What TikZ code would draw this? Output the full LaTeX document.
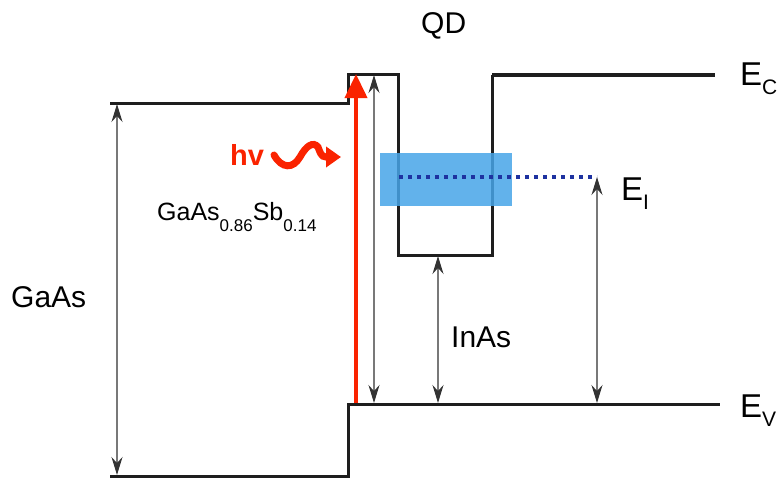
\documentclass[tikz,border=0pt]{standalone}
\usepackage{fontspec}
\setmainfont{Liberation Sans}
\usepackage{tikz}
\usetikzlibrary{arrows.meta}

\definecolor{bandblack}{RGB}{30,30,30}
\definecolor{gapgray}{RGB}{120,120,120}
\definecolor{photonred}{RGB}{250,35,0}
\definecolor{levelblue}{RGB}{70,165,232}
\definecolor{dotblue}{RGB}{30,50,160}

\newcommand{\sub}[1]{\raisebox{-0.45em}{\fontsize{17}{17}\selectfont #1}}

\begin{document}
\begin{tikzpicture}[x=1pt, y=-1pt, every node/.style={font=\fontsize{30}{36}\selectfont, inner sep=0pt},
  band/.style={bandblack, line width=3pt, line join=miter},
  gap/.style={gapgray, line width=1.5pt, {Stealth[length=18pt,width=11pt,inset=6pt,color=black!80]}-{Stealth[length=18pt,width=11pt,inset=6pt,color=black!80]}}]
	\useasboundingbox (0,0) rectangle (782,480);
	% conduction band with the dot
	\draw[band] (110,103) -- (348,103) -- (348,74) -- (398,74) -- (398,255) -- (492,255) -- (492,75);
	\draw[band, line width=4pt] (492,75) -- (715,75);
	% valence band
	\draw[band] (110,476) -- (348,476) -- (348,404) -- (720,404);
	% intermediate level
	\fill[levelblue, fill opacity=0.85] (380,153) rectangle (512,206);
	\draw[dotblue, line width=3.5pt, dash pattern=on 3.5pt off 5.5pt] (399,177) -- (597,177);
	% gaps
	\foreach \x/\a/\b in {117/104/475, 374/75/403, 438/256/403, 597/177/403} {\draw[gap] (\x,\b) -- (\x,\a);}
	% photon
	\draw[photonred, line width=4pt, -{Triangle[length=24pt,width=22pt]}] (356,403) -- (356,74);
	\draw[photonred, line width=7pt, line cap=round, -{Triangle[length=15pt,width=20pt]}] (274,155) .. controls (282,169) and (293,169) .. (300,157) .. controls (306,146) and (313,141) .. (318,147) .. controls (320,152) and (321,157) .. (326,157) -- (341,157);
	\node[photonred, font=\fontsize{29}{34}\selectfont\bfseries, anchor=base west] (hv) at (230,165) {hv};
	% labels
	\node[anchor=base west] (qd) at (421,33) {QD};
	\node[anchor=base west] (gaas) at (11,307) {GaAs};
	\node[anchor=base west] (inas) at (451,347) {InAs};
	\node[anchor=base west, font=\fontsize{25}{30}\selectfont] (gaassb) at (157,220) {GaAs\sub{0.86}Sb\sub{0.14}};
	\node[anchor=base west, font=\fontsize{33}{36}\selectfont] (ec) at (740,85) {E\raisebox{-0.3em}{\fontsize{21}{21}\selectfont C}};
	\node[anchor=base west, font=\fontsize{33}{36}\selectfont] (ev) at (740,417) {E\raisebox{-0.3em}{\fontsize{21}{21}\selectfont V}};
	\node[anchor=base west, font=\fontsize{33}{36}\selectfont] (ei) at (621,200) {E\raisebox{-0.3em}{\fontsize{21}{21}\selectfont I}};
\end{tikzpicture}
\end{document}
